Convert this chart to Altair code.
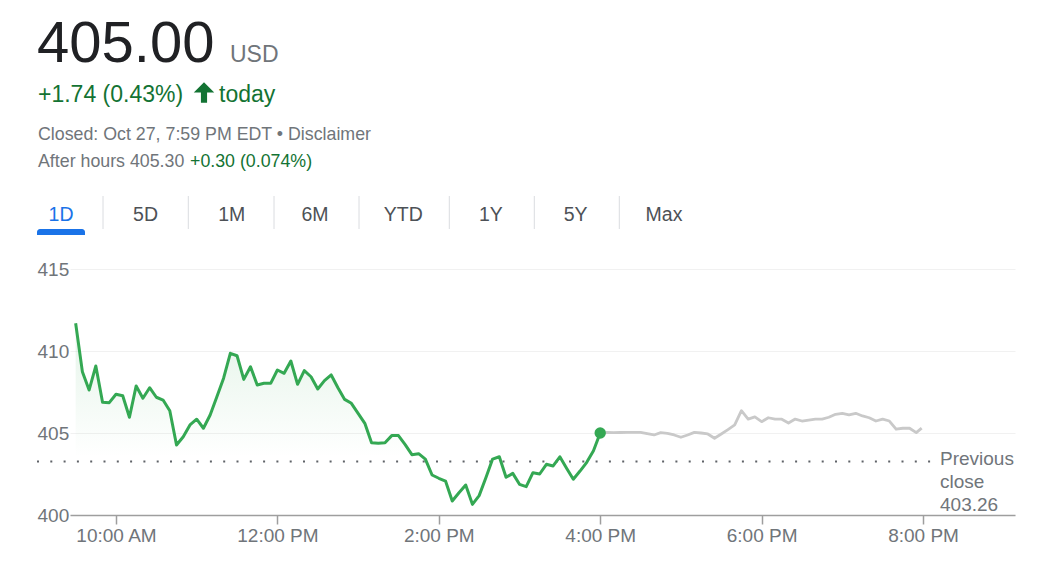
import altair as alt
import pandas as pd

# ---------------- data ----------------
PRICE = "405.00"
CURRENCY = "USD"
CHANGE = "+1.74 (0.43%)"
CLOSED_TEXT = "Closed: Oct 27, 7:59 PM EDT \u2022 Disclaimer"
AFTER_LABEL = "After hours 405.30"
AFTER_CHANGE = "+0.30 (0.074%)"
TABS = ["1D", "5D", "1M", "6M", "YTD", "1Y", "5Y", "Max"]
PREV_CLOSE = 403.26

# regular session, every 5 minutes from 9:30 AM to 4:00 PM
SESSION_VALUES = [
    411.69, 408.74, 407.62, 409.09, 406.87, 406.85, 407.36, 407.27, 405.96, 407.87,
    407.12, 407.76, 407.18, 407.01, 406.36, 404.27, 404.77, 405.49, 405.84, 405.29,
    406.10, 407.21, 408.34, 409.86, 409.71, 408.27, 409.04, 407.93, 408.03, 408.03,
    408.84, 408.64, 409.39, 407.97, 408.80, 408.43, 407.68, 408.19, 408.54, 407.76,
    407.05, 406.81, 406.20, 405.59, 404.41, 404.37, 404.41, 404.84, 404.84, 404.29,
    403.68, 403.74, 403.41, 402.44, 402.24, 402.07, 400.85, 401.36, 401.83, 400.65,
    401.18, 402.27, 403.41, 403.55, 402.30, 402.54, 401.87, 401.73, 402.58, 402.50,
    403.09, 402.99, 403.55, 402.85, 402.18, 402.68, 403.21, 403.92, 405.00,
]
# after hours, every 5 minutes from 4:00 PM to 7:55 PM, then 7:59 PM
AFTER_VALUES = [
    405.00, 405.03, 405.02, 405.03, 405.04, 405.04, 405.04, 404.96, 404.88, 405.02,
    404.98, 404.88, 404.74, 404.88, 405.04, 405.00, 404.94, 404.68, 404.94, 405.21,
    405.49, 406.36, 405.85, 405.98, 405.69, 405.93, 405.84, 405.84, 405.61, 405.85,
    405.73, 405.79, 405.85, 405.85, 405.96, 406.14, 406.20, 406.10, 406.20, 406.04,
    405.93, 405.73, 405.85, 405.73, 405.23, 405.29, 405.29, 405.02, 405.30,
]
X_TICKS = [600, 720, 840, 960, 1080, 1200]  # minutes after midnight
X_TICK_LABELS = ["10:00 AM", "12:00 PM", "2:00 PM", "4:00 PM", "6:00 PM", "8:00 PM"]
Y_TICKS = [400, 405, 410, 415]

session_minutes = [570 + 5 * i for i in range(len(SESSION_VALUES))]
after_minutes = [960 + 5 * i for i in range(len(AFTER_VALUES) - 1)] + [1199]

session_df = pd.DataFrame({"min": session_minutes, "price": SESSION_VALUES})
after_df = pd.DataFrame({"min": after_minutes, "price": AFTER_VALUES})
last_df = session_df.tail(1)

# ---------------- style ----------------
FONT = "Arial, Liberation Sans, sans-serif"
GREEN = "#34a853"
GREEN_TEXT = "#137333"
GRAY_TEXT = "#70757a"
DARK = "#202124"
BLUE = "#1a73e8"

label_expr = ""
for m, l in zip(X_TICKS, X_TICK_LABELS):
    label_expr += f"datum.value == {m} ? '{l}' : "
label_expr += "''"

X_SCALE = alt.Scale(domain=[565.8, 1268.4], nice=False, zero=False)
Y_SCALE = alt.Scale(domain=[400, 415], nice=False, zero=False)
X_AXIS = alt.Axis(
    values=X_TICKS, labelExpr=label_expr, title=None, grid=False,
    domainColor="#9e9e9e", domainWidth=1.5, tickColor="#9e9e9e", tickWidth=1.5,
    tickSize=9, labelPadding=2, labelFontSize=19, labelColor=GRAY_TEXT,
    labelFont=FONT, labelFlush=False,
)
Y_AXIS = alt.Axis(
    values=Y_TICKS, format="d", title=None, grid=True, gridColor="#f1f1f1",
    gridWidth=1, domain=False, ticks=False, tickSize=0, labelPadding=33,
    labelAlign="left", labelFontSize=19, labelColor=GRAY_TEXT, labelFont=FONT,
)

x_enc = alt.X("min:Q", scale=X_SCALE, axis=X_AXIS)
y_enc = alt.Y("price:Q", scale=Y_SCALE, axis=Y_AXIS)

area = alt.Chart(session_df).mark_area(
    color=alt.Gradient(
        gradient="linear",
        stops=[
            alt.GradientStop(color="rgba(52,168,83,0.13)", offset=0),
            alt.GradientStop(color="rgba(52,168,83,0.0)", offset=0.7),
        ],
        x1=1, x2=1, y1=0, y2=1,
    )
).encode(x=x_enc, y=y_enc, y2=alt.datum(400))

after_line = alt.Chart(after_df).mark_line(
    color="#c9c9c9", strokeWidth=2.8, strokeJoin="round"
).encode(x=x_enc, y=y_enc)

session_line = alt.Chart(session_df).mark_line(
    color=GREEN, strokeWidth=3, strokeJoin="round"
).encode(x=x_enc, y=y_enc)

dot = alt.Chart(last_df).mark_point(
    filled=True, color=GREEN, size=130, opacity=1
).encode(x=x_enc, y=y_enc)

prev_rule = alt.Chart(pd.DataFrame({"price": [PREV_CLOSE]})).mark_rule(
    color="#5f6368", strokeWidth=2, strokeDash=[2, 11.3]
).encode(y=y_enc, x=alt.value(-33), x2=alt.value(861))

prev_text = alt.Chart(alt.Data(values=[{}])).mark_text(
    text=["Previous", "close", f"{PREV_CLOSE:.2f}"], align="left",
    baseline="alphabetic", fontSize=19, lineHeight=23, color=GRAY_TEXT, font=FONT,
).encode(x=alt.value(870), y=alt.value(196))


def txt(s, x, y, size, color, align="left", baseline="alphabetic"):
    return alt.Chart(alt.Data(values=[{}])).mark_text(
        text=s, align=align, baseline=baseline, fontSize=size, color=color, font=FONT
    ).encode(x=alt.value(x), y=alt.value(y))


header = [
    txt(PRICE, -33, -207, 58, DARK),
    txt(CURRENCY, 160, -207, 23, GRAY_TEXT),
    txt(CHANGE, -32, -167, 23, GREEN_TEXT),
    txt("today", 149, -167, 23, GREEN_TEXT),
    txt(CLOSED_TEXT, -32, -129, 17.8, GRAY_TEXT),
    txt(AFTER_LABEL, -32, -102, 17.8, GRAY_TEXT),
    txt(AFTER_CHANGE, 120, -102, 17.8, GREEN_TEXT),
]

ARROW = "M0,-1L1,0L0.3,0L0.3,1L-0.3,1L-0.3,0L-1,0Z"
arrow = alt.Chart(alt.Data(values=[{}])).mark_point(
    shape=ARROW, filled=True, size=420, color=GREEN_TEXT, opacity=1, strokeWidth=0
).encode(x=alt.value(134), y=alt.value(-176.5))

# tabs (UI layout, page x minus plot left)
TAB_CENTERS = [61, 145.5, 231.7, 315, 403.3, 490.8, 575.7, 664]
SEP_X = [103, 188.3, 274, 359, 449.3, 534.3, 619.3]
tab_layers = []
for i, (t, cx) in enumerate(zip(TABS, TAB_CENTERS)):
    tab_layers.append(txt(t, cx - 70, -48, 19.5, BLUE if i == 0 else "#4d5156", align="center"))
for sx in SEP_X:
    tab_layers.append(
        alt.Chart(alt.Data(values=[{}])).mark_rule(color="#dadce0", strokeWidth=1).encode(
            x=alt.value(sx - 70), y=alt.value(-73), y2=alt.value(-40)
        )
    )
underline = alt.Chart(alt.Data(values=[{}])).mark_rect(
    color=BLUE, cornerRadiusTopLeft=3, cornerRadiusTopRight=3
).encode(x=alt.value(-33), x2=alt.value(15), y=alt.value(-40), y2=alt.value(-34))

chart = alt.layer(
    area, prev_rule, after_line, session_line, dot, prev_text, arrow, underline,
    *header, *tab_layers,
).properties(
    width=945, height=246,
    autosize=alt.AutoSizeParams(type="none"),
    padding={"left": 62, "top": 261, "right": 30, "bottom": 38},
    background="white",
).configure_view(stroke=None)

chart.save("out.html", embed_options={"renderer": "svg", "actions": False})
